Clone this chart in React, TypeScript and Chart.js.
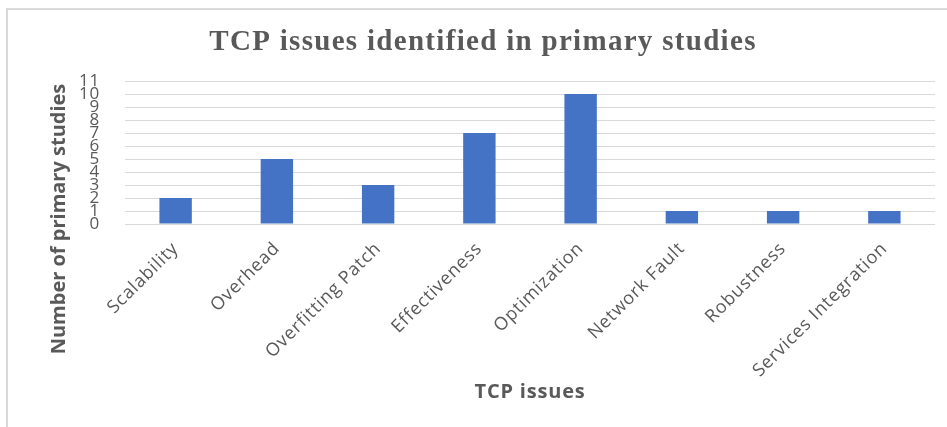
import React, { useEffect, useRef } from "react";
import { Chart, registerables } from "chart.js";

Chart.register(...registerables);

const categories = [
  "Scalability",
  "Overhead",
  "Overfitting Patch",
  "Effectiveness",
  "Optimization",
  "Network Fault",
  "Robustness",
  "Services Integration",
];
const studies = [2, 5, 3, 7, 10, 1, 1, 1];
const chartTitle = "TCP issues identified in primary studies";
const xTitle = "TCP issues";
const yTitle = "Number of primary studies";
const yMin = 0;
const yMax = 11;

const TEXT = "#595959";
const GRID = "#d9d9d9";
const BAR = "#4472c4";

const spacingPlugin = {
  id: "spacing",
  beforeInit(chart: any) {
    chart.ctx.letterSpacing = "0.8px";
  },
  beforeUpdate(chart: any) {
    chart.ctx.letterSpacing = "0.8px";
  },
  beforeDraw(chart: any) {
    chart.ctx.letterSpacing = "0.8px";
  },
};

const titlesPlugin = {
  id: "titles",
  afterDraw(chart: any) {
    const ctx = chart.ctx;
    const area = chart.chartArea;
    ctx.save();
    ctx.fillStyle = TEXT;
    ctx.textAlign = "center";
    ctx.textBaseline = "middle";
    ctx.letterSpacing = "1.3px";
    ctx.font = "bold 29px 'Liberation Serif', serif";
    ctx.fillText(chartTitle, 483, 43);
    ctx.letterSpacing = "0.8px";
    ctx.font = "bold 20px 'Open Sans', sans-serif";
    ctx.fillText(xTitle, (area.left + area.right) / 2, 392);
    ctx.translate(59, 219);
    ctx.rotate(-Math.PI / 2);
    ctx.letterSpacing = "0px";
    ctx.font = "bold 20px 'Open Sans', sans-serif";
    ctx.fillText(yTitle, 0, 0);
    ctx.restore();
  },
};

export default function App() {
  const ref = useRef<HTMLCanvasElement | null>(null);
  useEffect(() => {
    if (!ref.current) return;
    const chart = new Chart(ref.current, {
      type: "bar",
      data: {
        labels: categories,
        datasets: [
          {
            label: "Primary studies",
            data: studies,
            backgroundColor: BAR,
            barPercentage: 0.32,
            categoryPercentage: 1,
          },
        ],
      },
      options: {
        responsive: false,
        animation: false,
        layout: { padding: { left: 0, right: 12, top: 81, bottom: 0 } },
        plugins: {
          legend: { display: false },
          tooltip: { enabled: false },
          title: { display: false },
        },
        scales: {
          x: {
            offset: true,
            grid: { display: false, drawTicks: false },
            border: { display: false },
            ticks: {
              color: TEXT,
              font: { family: "'Open Sans', sans-serif", size: 18 },
              minRotation: 45,
              maxRotation: 45,
              padding: 14,
              autoSkip: false,
            },
            afterFit: (s: any) => {
              s.height = 203;
            },
          },
          y: {
            min: yMin,
            max: yMax,
            grid: { color: GRID, lineWidth: 1, drawTicks: false },
            border: { display: false },
            ticks: {
              stepSize: 1,
              autoSkip: false,
              color: TEXT,
              font: { family: "'Open Sans', sans-serif", size: 17 },
              padding: 25,
            },
            afterFit: (s: any) => {
              s.width = 125;
            },
          },
        },
      },
      plugins: [spacingPlugin, titlesPlugin],
    });
    return () => chart.destroy();
  }, []);

  return (
    <div
      style={{
        position: "fixed",
        left: 0,
        top: 0,
        width: 947,
        height: 427,
        overflow: "hidden",
        background: "#ffffff",
      }}
    >
      <div
        style={{
          position: "absolute",
          left: 6,
          top: 8,
          width: 1000,
          height: 1000,
          border: `2px solid ${GRID}`,
          boxSizing: "border-box",
        }}
      />
      <canvas
        ref={ref}
        width={947}
        height={427}
        style={{ position: "absolute", left: 0, top: 0 }}
      />
    </div>
  );
}
